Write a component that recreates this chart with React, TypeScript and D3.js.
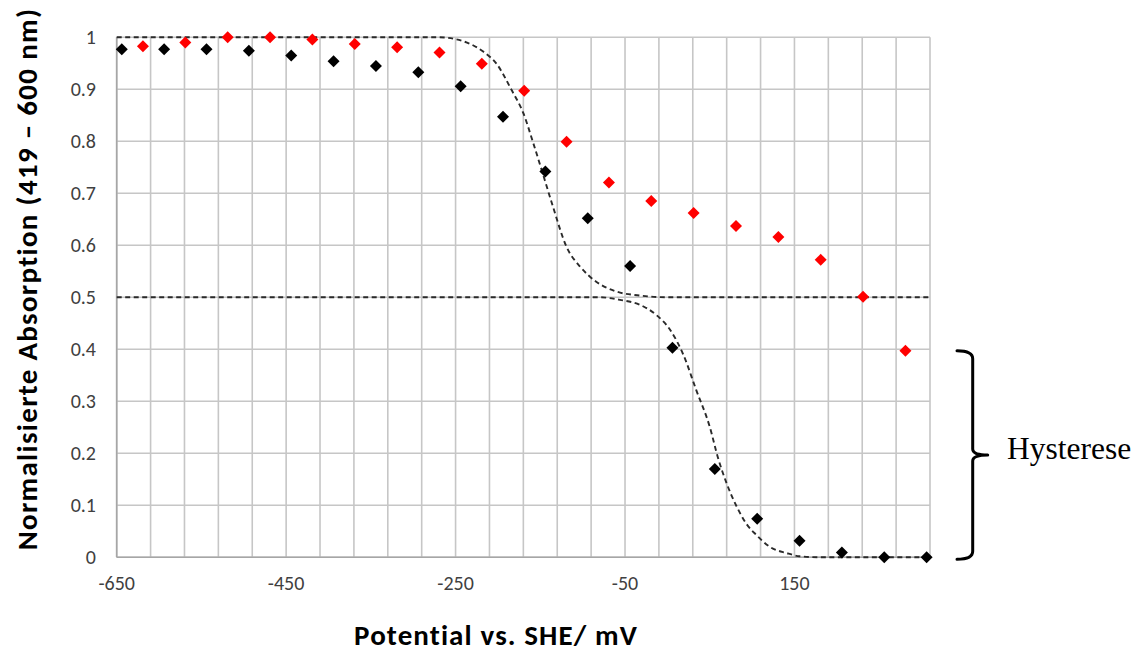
import * as d3 from 'd3';

// measured series (potential in mV vs. SHE, normalised absorption)
const blackX = [-644, -594, -544, -494, -444, -394, -344, -294, -244, -194, -144, -94, -44, 6, 56, 106, 156, 206, 256, 306];
const blackY = [0.977, 0.977, 0.977, 0.974, 0.965, 0.954, 0.945, 0.933, 0.906, 0.847, 0.742, 0.652, 0.56, 0.403, 0.17, 0.074, 0.032, 0.009, 0, 0];

const redX = [-619, -569, -519, -469, -419, -369, -319, -269, -219, -169, -119, -69, -19, 31, 81, 131, 181, 231, 281];
const redY = [0.983, 0.99, 1.0, 1.0, 0.996, 0.987, 0.981, 0.971, 0.949, 0.897, 0.799, 0.721, 0.685, 0.662, 0.637, 0.616, 0.572, 0.501, 0.397];

// dashed fit curves
const fitAX = [-650, -270, -249, -217, -202, -184, -170, -158, -145, -135, -119, -103, -84, -60, -30, 0, 310];
const fitAY = [1, 1, 0.996, 0.972, 0.95, 0.899, 0.854, 0.795, 0.727, 0.674, 0.597, 0.559, 0.53, 0.511, 0.503, 0.5, 0.5];

const fitBX = [-650, -80, -56, -33, -13, 3, 19, 34, 50, 60, 70, 82, 93, 105, 121, 141, 156, 180, 310];
const fitBY = [0.5, 0.5, 0.495, 0.486, 0.466, 0.438, 0.389, 0.322, 0.251, 0.19, 0.142, 0.097, 0.065, 0.043, 0.02, 0.008, 0.002, 0, 0];

const xTickLabels = [-650, -450, -250, -50, 150];
const yTickLabels = [0, 0.1, 0.2, 0.3, 0.4, 0.5, 0.6, 0.7, 0.8, 0.9, 1];

const W = 1137;
const H = 654;
const plot = { left: 116.7, right: 930, top: 37.3, bottom: 557.3 };
const labelFont = 'Carlito, Calibri, Lato, sans-serif';

export default function App() {
  const x = d3.scaleLinear().domain([-650, 310]).range([plot.left, plot.right]);
  const y = d3.scaleLinear().domain([0, 1]).range([plot.bottom, plot.top]);

  const xGrid = d3.range(-650, 311, 40);
  const line = d3.line<[number, number]>()
    .x((d) => x(d[0]))
    .y((d) => y(d[1]))
    .curve(d3.curveMonotoneX);

  const fitA = line(fitAX.map((v, i) => [v, fitAY[i]]));
  const fitB = line(fitBX.map((v, i) => [v, fitBY[i]]));

  const diamond = (cx: number, cy: number, r = 6) =>
    `M${cx},${cy - r}L${cx + r},${cy}L${cx},${cy + r}L${cx - r},${cy}Z`;

  // curly bracket on the right
  const bx = 972.7;
  const bTop = 350.7;
  const bBot = 559.3;
  const bMid = 455;
  const bracket = `M957,${bTop} Q${bx},${bTop} ${bx},${bTop + 8} L${bx},${bMid - 6} Q${bx},${bMid} ${bx + 15},${bMid}`
    + ` M${bx + 15},${bMid} Q${bx},${bMid} ${bx},${bMid + 6} L${bx},${bBot - 8} Q${bx},${bBot} 957,${bBot}`;

  return (
    <svg width={W} height={H} style={{ position: 'absolute', left: 0, top: 0, background: '#fff' }}>
      {/* grid */}
      <g stroke="#c6c6c6" strokeWidth={1.6}>
        {xGrid.map((v) => (
          <line key={`gx${v}`} x1={x(v)} x2={x(v)} y1={plot.top} y2={plot.bottom} />
        ))}
        {yTickLabels.map((v) => (
          <line key={`gy${v}`} x1={plot.left} x2={plot.right} y1={y(v)} y2={y(v)} />
        ))}
      </g>
      <line x1={plot.left} x2={plot.left} y1={plot.top} y2={plot.bottom} stroke="#a6a6a6" strokeWidth={1.6} />
      <line x1={plot.left} x2={plot.right} y1={plot.bottom} y2={plot.bottom} stroke="#a6a6a6" strokeWidth={1.6} />

      {/* tick labels */}
      <g fontFamily={labelFont} fontSize={20} fill="#404040">
        {yTickLabels.map((v) => (
          <text key={`ty${v}`} x={96} y={y(v)} dy="0.35em" textAnchor="end">{v}</text>
        ))}
        {xTickLabels.map((v) => (
          <text key={`tx${v}`} x={x(v)} y={590} textAnchor="middle">{v}</text>
        ))}
      </g>

      {/* fit curves */}
      <g fill="none" stroke="#2a2a2a" strokeWidth={1.9} strokeDasharray="5 3.5">
        <path d={fitA ?? ''} />
        <path d={fitB ?? ''} />
      </g>

      {/* markers */}
      <g fill="#000">
        {blackX.map((v, i) => <path key={`b${i}`} d={diamond(x(v), y(blackY[i]))} />)}
      </g>
      <g fill="#ff0000">
        {redX.map((v, i) => <path key={`r${i}`} d={diamond(x(v), y(redY[i]))} />)}
      </g>

      {/* axis titles */}
      <text x={496} y={645} textAnchor="middle" fontFamily={labelFont} fontWeight="bold" fontSize={29} letterSpacing={1.1} fill="#000">
        Potential vs. SHE/ mV
      </text>
      <text
        transform="translate(37,279) rotate(-90)"
        textAnchor="middle"
        fontFamily={labelFont}
        fontWeight="bold"
        fontSize={29}
        letterSpacing={1.3}
        fill="#000"
      >
        Normalisierte Absorption (419 – 600 nm)
      </text>

      {/* hysteresis annotation */}
      <path d={bracket} fill="none" stroke="#000" strokeWidth={3} strokeLinecap="round" />
      <text x={1007} y={459} fontFamily="'Liberation Serif', 'Times New Roman', serif" fontSize={31.5} fill="#000">
        Hysterese
      </text>
    </svg>
  );
}
